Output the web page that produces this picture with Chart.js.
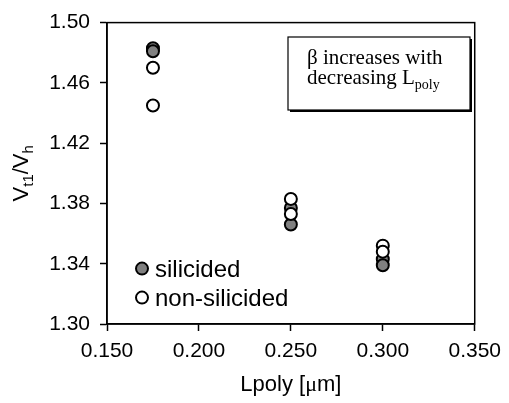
<!DOCTYPE html>
<html>
<head>
<meta charset="utf-8">
<script src="https://cdn.jsdelivr.net/npm/chart.js@4/dist/chart.umd.min.js"></script>
<style>
  html, body { margin: 0; padding: 0; background: #fff; }
  #wrap { width: 509px; height: 403px; position: relative; }
</style>
</head>
<body>
<div id="wrap"><canvas id="grafica"></canvas></div>
<script>
// --- DATOS ---
const lpolySil = [0.175, 0.175, 0.250, 0.250, 0.300, 0.300];
const vSil = [1.483, 1.481, 1.377, 1.366, 1.343, 1.339];
const lpolyNoSil = [0.175, 0.175, 0.250, 0.250, 0.300, 0.300];
const vNoSil = [1.470, 1.445, 1.383, 1.373, 1.352, 1.348];
const xTicks = [0.150, 0.200, 0.250, 0.300, 0.350];
const yTicks = [1.30, 1.34, 1.38, 1.42, 1.46, 1.50];
const nombresSeries = ["silicided", "non-silicided"];

const FUENTE = "'Liberation Sans', Arial, sans-serif";
const SERIF = "'Liberation Serif', 'Times New Roman', serif";

function puntos(xs, ys) {
    return xs.map((x, i) => ({ x: x, y: ys[i] }));
}

// texto con subíndice: partes [[texto, esSub], ...]
function textoSub(ctx, partes, x, y, tam, familia) {
    let cx = x;
    partes.forEach(([t, sub]) => {
        const f = sub ? Math.round(tam * 0.68) : tam;
        ctx.font = f + "px " + familia;
        ctx.fillText(t, cx, sub ? y + tam * 0.22 : y);
        cx += ctx.measureText(t).width;
    });
    return cx - x;
}

function anchoSub(ctx, partes, tam, familia) {
    let w = 0;
    partes.forEach(([t, sub]) => {
        ctx.font = (sub ? Math.round(tam * 0.68) : tam) + "px " + familia;
        w += ctx.measureText(t).width;
    });
    return w;
}

// marco, leyenda, cuadro de texto y títulos de ejes
const extras = {
    id: "extras",
    beforeDatasetsDraw(chart) {
        const { ctx, chartArea: a } = chart;
        ctx.save();
        ctx.strokeStyle = "#000";
        ctx.lineWidth = 1.5;
        ctx.strokeRect(a.left, a.top, a.right - a.left, a.bottom - a.top);
        ctx.restore();
    },
    afterDraw(chart) {
        const { ctx, chartArea: a } = chart;
        ctx.save();
        ctx.fillStyle = "#000";
        ctx.textBaseline = "alphabetic";

        // leyenda dentro del área
        chart.data.datasets.forEach((ds, i) => {
            const y = a.top + 246 + i * 29;
            ctx.beginPath();
            ctx.arc(a.left + 35, y, 6, 0, Math.PI * 2);
            ctx.fillStyle = ds.backgroundColor;
            ctx.fill();
            ctx.lineWidth = 2;
            ctx.strokeStyle = "#000";
            ctx.stroke();
            ctx.fillStyle = "#000";
            ctx.font = "24px " + FUENTE;
            ctx.textAlign = "left";
            ctx.fillText(ds.label, a.left + 48, y + 8);
        });

        // cuadro de anotación con sombra
        const bx = 288, by = 37, bw = 182, bh = 73;
        ctx.fillStyle = "#000";
        ctx.fillRect(bx + 2, by + 2, bw, bh);
        ctx.fillStyle = "#fff";
        ctx.fillRect(bx, by, bw, bh);
        ctx.lineWidth = 1.2;
        ctx.strokeStyle = "#000";
        ctx.strokeRect(bx, by, bw, bh);
        ctx.fillStyle = "#000";
        ctx.textAlign = "left";
        ctx.font = "21px " + SERIF;
        ctx.fillText("\u03b2 increases with", bx + 19, by + 27);
        textoSub(ctx, [["decreasing L", false], ["poly", true]], bx + 19, by + 47, 21, SERIF);

        // título eje X
        const tam = 22;
        ctx.font = tam + "px " + FUENTE;
        const w1 = ctx.measureText("Lpoly [").width;
        ctx.font = tam + "px " + SERIF;
        const w2 = ctx.measureText("\u03bc").width;
        ctx.font = tam + "px " + FUENTE;
        const w3 = ctx.measureText("m]").width;
        let x0 = (a.left + a.right) / 2 - (w1 + w2 + w3) / 2;
        const yx = 391;
        ctx.fillText("Lpoly [", x0, yx);
        ctx.font = tam + "px " + SERIF;
        ctx.fillText("\u03bc", x0 + w1, yx);
        ctx.font = tam + "px " + FUENTE;
        ctx.fillText("m]", x0 + w1 + w2, yx);

        // título eje Y (rotado)
        const partesY = [["V", false], ["t1", true], ["/V", false], ["h", true]];
        const wy = anchoSub(ctx, partesY, tam, FUENTE);
        ctx.translate(28, (a.top + a.bottom) / 2);
        ctx.rotate(-Math.PI / 2);
        textoSub(ctx, partesY, -wy / 2, 0, tam, FUENTE);
        ctx.restore();
    }
};

const serieSil = {
    label: nombresSeries[0],
    data: puntos(lpolySil, vSil),
    backgroundColor: "#808080",
    borderColor: "#000",
    borderWidth: 2,
    pointRadius: 6,
    order: 2
};
const serieNoSil = {
    label: nombresSeries[1],
    data: puntos(lpolyNoSil, vNoSil),
    backgroundColor: "#ffffff",
    borderColor: "#000",
    borderWidth: 2,
    pointRadius: 6,
    order: 1
};

new Chart(document.getElementById("grafica"), {
    type: "scatter",
    data: { datasets: [serieSil, serieNoSil] },
    options: {
        responsive: true,
        maintainAspectRatio: false,
        animation: false,
        layout: { padding: { left: 0, top: 17, right: 27, bottom: 0 } },
        plugins: {
            legend: { display: false },
            tooltip: { enabled: false }
        },
        scales: {
            x: {
                type: "linear",
                min: xTicks[0],
                max: xTicks[xTicks.length - 1],
                afterBuildTicks: s => { s.ticks = xTicks.map(v => ({ value: v })); },
                afterFit: s => { s.height = 79; },
                grid: { drawOnChartArea: false, color: "#000", tickLength: 7, tickWidth: 1.5 },
                border: { color: "#000", width: 1.5 },
                ticks: {
                    color: "#000",
                    font: { family: FUENTE, size: 21 },
                    padding: 8,
                    maxRotation: 0,
                    callback: v => v.toFixed(3)
                }
            },
            y: {
                type: "linear",
                min: yTicks[0],
                max: yTicks[yTicks.length - 1],
                afterBuildTicks: s => { s.ticks = yTicks.map(v => ({ value: v })); },
                afterFit: s => { s.width = 107; },
                grid: { drawOnChartArea: false, color: "#000", tickLength: 7, tickWidth: 1.5 },
                border: { color: "#000", width: 1.5 },
                ticks: {
                    color: "#000",
                    font: { family: FUENTE, size: 21 },
                    padding: 10,
                    callback: v => v.toFixed(2)
                }
            }
        }
    },
    plugins: [extras]
});
</script>
</body>
</html>
